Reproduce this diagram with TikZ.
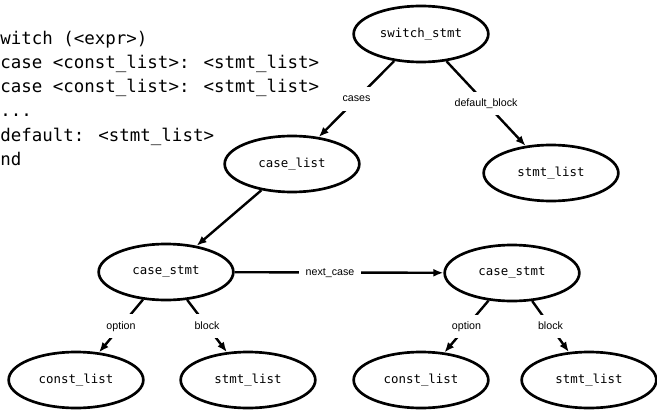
\documentclass[tikz,border=0pt]{standalone}
\usepackage{fontspec}
\setmainfont{Liberation Sans}
\newfontfamily\codefont{DejaVu Sans Mono}
\usetikzlibrary{arrows.meta,shapes.geometric}

\begin{document}
\begin{tikzpicture}[x=0.75pt,y=-0.75pt,
  state/.style={ellipse, draw, line width=2pt, minimum width=101pt,
    minimum height=42pt, inner sep=0pt,
    font=\codefont\fontsize{9.3}{11}\selectfont},
  link/.style={line width=1.8pt, -{Latex[length=7.5pt,width=6pt]}},
  tag/.style={fill=white, font=\fontsize{8}{9.6}\selectfont,
    inner xsep=5pt, inner ysep=4.5pt, text height=6.5pt, text depth=2pt},
  codeline/.style={anchor=base west, inner sep=0pt,
    font=\codefont\fontsize{13.1}{15}\selectfont}]
\useasboundingbox (0,0) rectangle (657,410);
\clip (0,0) rectangle (657,410);

% grammar of the switch statement
\node[codeline] (g1) at (-10.5,45)  {switch (<expr>)};
\node[codeline] (g2) at (0,69)      {case <const\_list>: <stmt\_list>};
\node[codeline] (g3) at (0,93)      {case <const\_list>: <stmt\_list>};
\node[codeline] (g4) at (0,117)     {...};
\node[codeline] (g5) at (0,142)     {default: <stmt\_list>};
\node[codeline] (g6) at (-10.5,166) {end};

% syntax tree nodes
\node[state] (sw)  at (421,34)  {switch\_stmt};
\node[state] (cl)  at (292,164) {case\_list};
\node[state] (dsl) at (551,173) {stmt\_list};
\node[state] (cs1) at (166,272) {case\_stmt};
\node[state] (cs2) at (512,273) {case\_stmt};
\node[state] (c1)  at (76,380)  {const\_list};
\node[state] (s1)  at (248,380) {stmt\_list};
\node[state] (c2)  at (421,380) {const\_list};
\node[state] (s2)  at (589,380) {stmt\_list};

% labelled edges
\draw[link] (sw) -- node[tag] {cases} (cl);
\draw[link] (sw) -- node[tag] {default\_block} (dsl);
\draw[link] (cl) -- (cs1);
\draw[link] (cs1) -- node[tag,pos=0.457] {next\_case} (cs2);
\draw[link] (cs1) -- node[tag] {option} (c1);
\draw[link] (cs1) -- node[tag] {block} (s1);
\draw[link] (cs2) -- node[tag] {option} (c2);
\draw[link] (cs2) -- node[tag] {block} (s2);
\end{tikzpicture}
\end{document}
